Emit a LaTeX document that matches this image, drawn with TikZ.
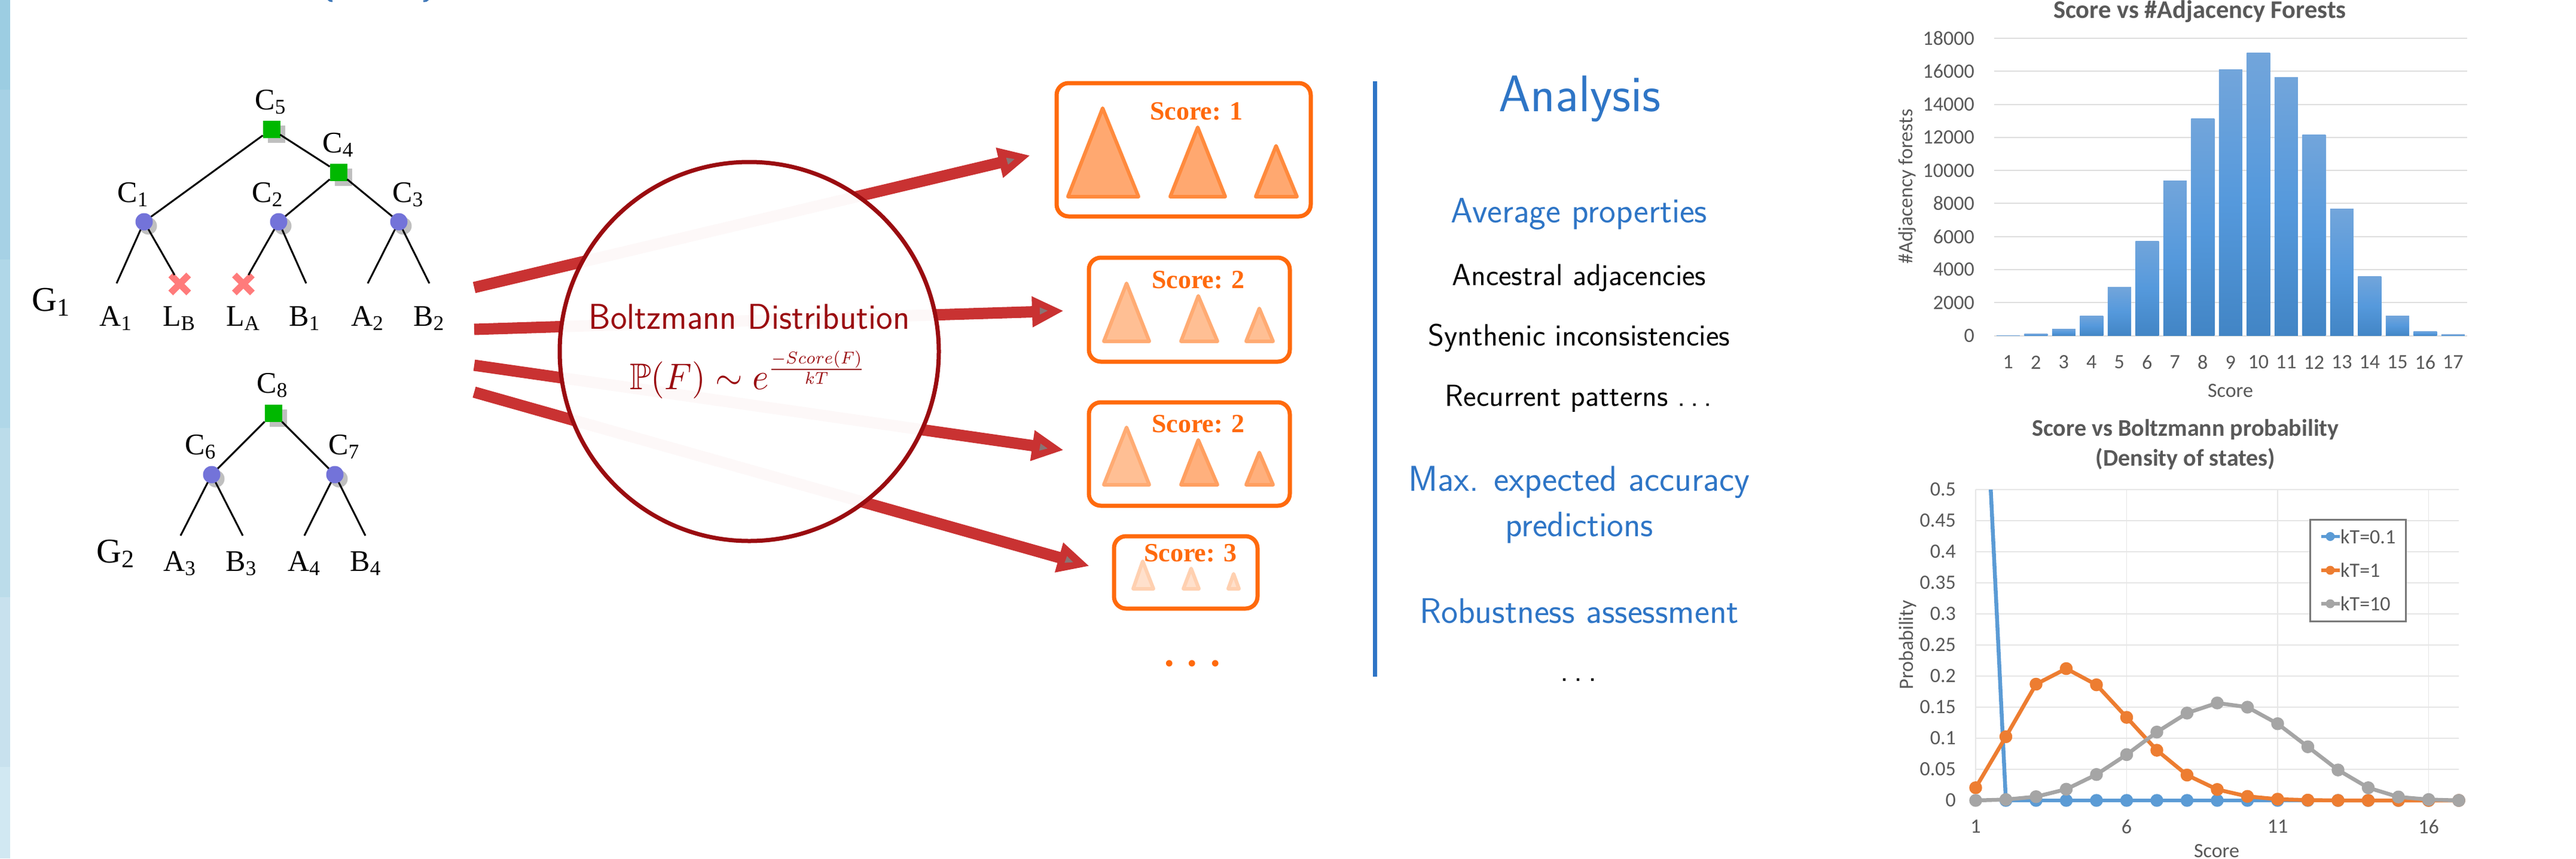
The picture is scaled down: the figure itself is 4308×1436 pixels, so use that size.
\documentclass[tikz,border=0pt]{standalone}
\usepackage{amsmath,amssymb,graphicx}
\usepackage{fontspec}
\usetikzlibrary{arrows.meta,shadows,shapes.misc}
\newfontfamily\tms{Liberation Serif}
\newfontfamily\crl{Carlito}
\newcommand{\fsz}[1]{\fontsize{#1}{#1}\selectfont}
\newcommand{\lsub}[2]{#1\raisebox{-7pt}{\fsz{35}#2}}
\newcommand{\gsub}[2]{#1\raisebox{-8pt}{\fsz{42}#2}}
\newcommand{\dts}{.\kern.17em.\kern.17em.}
\definecolor{bandA}{HTML}{9CCDE2}
\definecolor{bandB}{HTML}{A6D1E5}
\definecolor{bandC}{HTML}{B0D7E8}
\definecolor{bandD}{HTML}{BBDCEA}
\definecolor{bandE}{HTML}{C8E1EE}
\definecolor{bandF}{HTML}{D1E8F2}
\definecolor{treeblue}{HTML}{7373D9}
\definecolor{treegreen}{HTML}{00B800}
\definecolor{shadowgray}{HTML}{BFBFBF}
\definecolor{crossred}{HTML}{FF7B7B}
\definecolor{arrowred}{HTML}{C93232}
\definecolor{darkred}{HTML}{9A0C10}
\definecolor{boxorange}{HTML}{FF6A0D}
\definecolor{anblue}{HTML}{2E75C6}
\definecolor{txtgray}{HTML}{595959}
\definecolor{gridgray}{HTML}{DEDEDE}
\definecolor{gridlight}{HTML}{E6E6E6}
\definecolor{serblue}{HTML}{5B9BD5}
\definecolor{serorange}{HTML}{ED7D31}
\definecolor{sergray}{HTML}{A5A5A5}
\definecolor{barT}{HTML}{72A5DB}
\definecolor{barM}{HTML}{5599DC}
\definecolor{barB}{HTML}{4285C5}
\definecolor{trAd}{HTML}{FF8A3D}\definecolor{trAf}{HTML}{FFA870}
\definecolor{trBd}{HTML}{FFAB73}\definecolor{trBf}{HTML}{FFBF94}
\definecolor{trCd}{HTML}{FF9F60}\definecolor{trCf}{HTML}{FFB07D}
\definecolor{trDd}{HTML}{FFD0B0}\definecolor{trDf}{HTML}{FFE0CC}
\tikzset{
  inode/.style={circle,fill=treeblue,minimum size=29pt,inner sep=0pt,outer sep=0pt,
    drop shadow={shadow xshift=7pt,shadow yshift=-7pt,fill=shadowgray,opacity=1}},
  snode/.style={rectangle,fill=treegreen,minimum size=29pt,inner sep=0pt,outer sep=0pt,
    drop shadow={shadow xshift=8pt,shadow yshift=-8pt,fill=shadowgray,opacity=1}},
  xnode/.style={cross out,draw=crossred,line width=11pt,minimum size=30pt,inner sep=0pt,outer sep=0pt},
  edge/.style={draw=black,line width=3pt},
  tlabel/.style={font=\tms\fsz{50},anchor=base,inner sep=0pt},
  glabel/.style={font=\tms\fsz{58},anchor=base,inner sep=0pt},
  bigarrow/.style={draw=arrowred,line width=19pt,-{Triangle[length=53pt,width=48pt]}},
  scorebox/.style={draw=boxorange,line width=7pt,rounded corners=20pt,inner sep=0pt,fill=white},
  scoretxt/.style={font=\tms\bfseries\fsz{44},text=boxorange,inner sep=0pt},
  tri/.style n args={2}{draw=#1,fill=#2,line width=6pt,line join=round},
  ansh/.style={font=\sffamily\fsz{#1},anchor=base,inner sep=0pt,align=center,text=anblue},
  anbl/.style={font=\sffamily\fsz{#1},anchor=base,inner sep=0pt,text=black},
  chtitle/.style={font=\crl\bfseries\fsz{#1},text=txtgray,inner sep=0pt},
  chtick/.style={font=\crl\fsz{34},text=txtgray,inner sep=0pt},
  grid line/.style={draw=gridgray,line width=2pt},
  light grid/.style={draw=gridlight,line width=1.6pt},
  ser/.style={line width=6.5pt,line join=round,mark=*,mark size=7.5pt}
}
\begin{document}
\begin{tikzpicture}[x=1pt,y=-1pt]
\useasboundingbox (0,0) rectangle (4308,1436);
\fill[white] (0,0) rectangle (4308,1436);
% side strip
\fill[bandA] (0,0) rectangle (17,150);
\fill[bandB] (0,150) rectangle (17,434);
\fill[bandC] (0,434) rectangle (17,716);
\fill[bandD] (0,716) rectangle (17,999);
\fill[bandE] (0,999) rectangle (17,1283);
\fill[bandF] (0,1283) rectangle (17,1436);
% clipped title remnants
\draw[draw=anblue!80!gray,line width=3pt] (549,-1) .. controls (550,1) and (553,2) .. (556,2);
\draw[draw=anblue!80!gray,line width=3pt] (716,-1) .. controls (715,1) and (712,2) .. (708,2);

% tree 1
\node[snode] (c5) at (454,216) {};
\node[snode] (c4) at (566,288) {};
\node[inode] (c1) at (241,371) {};
\node[inode] (c2) at (466,371) {};
\node[inode] (c3) at (667,371) {};
\coordinate (a1p) at (195,474);
\coordinate (b1p) at (512,474);
\coordinate (a2p) at (615,474);
\coordinate (b2p) at (718,474);
\node[xnode] (lb) at (300.5,475) {};
\node[xnode] (la) at (407,475) {};
\draw[edge] (c5) -- (c1);
\draw[edge] (c5) -- (c4);
\draw[edge] (c4) -- (c2);
\draw[edge] (c4) -- (c3);
\draw[edge] (c1) -- (a1p);
\draw[edge] (c1) -- (lb);
\draw[edge] (c2) -- (la);
\draw[edge] (c2) -- (b1p);
\draw[edge] (c3) -- (a2p);
\draw[edge] (c3) -- (b2p);
\node[tlabel] (lc5) at (452,183) {\lsub{C}{5}};
\node[tlabel] (lc4) at (565,255) {\lsub{C}{4}};
\node[tlabel] (lc1) at (222,338) {\lsub{C}{1}};
\node[tlabel] (lc2) at (447,338) {\lsub{C}{2}};
\node[tlabel] (lc3) at (682,338) {\lsub{C}{3}};
\node[glabel] (lg1) at (85,520) {\gsub{G}{1}};
\node[tlabel] (la1) at (193,545) {\lsub{A}{1}};
\node[tlabel] (llb) at (299,545) {\lsub{L}{B}};
\node[tlabel] (lla) at (406,545) {\lsub{L}{A}};
\node[tlabel] (lb1) at (509,545) {\lsub{B}{1}};
\node[tlabel] (la2) at (614,545) {\lsub{A}{2}};
\node[tlabel] (lb2) at (717,545) {\lsub{B}{2}};
% tree 2
\node[snode] (c8) at (457,691) {};
\node[inode] (c6) at (354,794) {};
\node[inode] (c7) at (560,794) {};
\coordinate (a3p) at (302,896);
\coordinate (b3p) at (406,896);
\coordinate (a4p) at (509,896);
\coordinate (b4p) at (611,896);
\draw[edge] (c8) -- (c6);
\draw[edge] (c8) -- (c7);
\draw[edge] (c6) -- (a3p);
\draw[edge] (c6) -- (b3p);
\draw[edge] (c7) -- (a4p);
\draw[edge] (c7) -- (b4p);
\node[tlabel] (lc8) at (455,657) {\lsub{C}{8}};
\node[tlabel] (lc6) at (335,760) {\lsub{C}{6}};
\node[tlabel] (lc7) at (575,760) {\lsub{C}{7}};
\node[glabel] (lg2) at (193,941) {\gsub{G}{2}};
\node[tlabel] (la3) at (300,955) {\lsub{A}{3}};
\node[tlabel] (lb3) at (403,955) {\lsub{B}{3}};
\node[tlabel] (la4) at (508,955) {\lsub{A}{4}};
\node[tlabel] (lb4) at (611,955) {\lsub{B}{4}};

% arrows
\coordinate (s1) at (793,481);
\coordinate (t1) at (1723,260);
\coordinate (s2) at (793,551);
\coordinate (t2) at (1779,520);
\coordinate (s3) at (793,611);
\coordinate (t3) at (1779,753);
\coordinate (s4) at (793,656);
\coordinate (t4) at (1822,947);
\draw[bigarrow] (s1) -- (t1);
\draw[bigarrow] (s2) -- (t2);
\draw[bigarrow] (s3) -- (t3);
\draw[bigarrow] (s4) -- (t4);
\foreach \px/\py/\pa in {1690/268/16,1745/520/2,1745/749/-10,1788/938/-21}
  \fill[fill=gray!85!arrowred,shift={(\px,\py)},rotate=\pa] (-6,-6) -- (7,0) -- (-6,6) -- cycle;

% Boltzmann circle
\node[circle,draw=darkred,line width=7pt,fill=white,fill opacity=.97,draw opacity=1,
  minimum size=634pt,inner sep=0pt] (boltz) at (1253,588) {};
\node[font=\sffamily\fsz{60},text=darkred,inner sep=0pt,anchor=base] (bname) at (1253,550)
  {\scalebox{.975}[1]{Boltzmann Distribution}};
\node[text=darkred,inner sep=0pt,anchor=base] (bform) at (1251,651)
  {\scalebox{5.85}[6.2]{$\mathbb{P}(F)\sim e^{\scalebox{.66}{$\frac{-Score(F)}{kT}$}}$}};

% score boxes
\node[scorebox,minimum width=425pt,minimum height=223pt] (box1) at (1979.5,250.5) {};
\node[scorebox,minimum width=336pt,minimum height=174pt] (box2) at (1989,518) {};
\node[scorebox,minimum width=336pt,minimum height=173pt] (box3) at (1989,759.5) {};
\node[scorebox,minimum width=240pt,minimum height=121pt] (box4) at (1983,957.5) {};
\path[tri={trAd}{trAf}] (1844,181) -- (1786,329) -- (1904,329) -- cycle;
\path[tri={trAd}{trAf}] (2003,213) -- (1957,329) -- (2049,329) -- cycle;
\path[tri={trAd}{trAf}] (2134,244) -- (2100,329) -- (2169,329) -- cycle;
\path[tri={trBd}{trBf}] (1884,474) -- (1846,571) -- (1922,571) -- cycle;
\path[tri={trBd}{trBf}] (2004,495) -- (1975,571) -- (2036,571) -- cycle;
\path[tri={trBd}{trBf}] (2106,516) -- (2084,571) -- (2129,571) -- cycle;
\path[tri={trBd}{trBf}] (1884,715) -- (1846,811) -- (1922,811) -- cycle;
\path[tri={trCd}{trCf}] (2004,736) -- (1975,811) -- (2036,811) -- cycle;
\path[tri={trCd}{trCf}] (2106,757) -- (2084,811) -- (2129,811) -- cycle;
\path[tri={trDd}{trDf}] (1911,939) -- (1895,985) -- (1929,985) -- cycle;
\path[tri={trDd}{trDf}] (1992,951) -- (1979,985) -- (2005,985) -- cycle;
\path[tri={trDd}{trDf}] (2063,960) -- (2054,985) -- (2072,985) -- cycle;
\node[scoretxt] (sc1) at (2001,186) {Score: 1};
\node[scoretxt] (sc2) at (2004,468) {Score: 2};
\node[scoretxt] (sc3) at (2004,709) {Score: 2};
\node[scoretxt] (sc4) at (1991,925) {Score: 3};
\node[font=\tms\bfseries\fsz{66},text=boxorange,inner sep=0pt,anchor=base] (scd) at (1994,1114) {. . .};

% analysis
\coordinate (vt) at (2299,136);
\coordinate (vb) at (2299,1132);
\draw[draw=anblue,line width=7pt] (vt) -- (vb);
\node[ansh=86] (an0) at (2642,186) {Analysis};
\node[ansh=59] (an1) at (2641,372) {Average properties};
\node[anbl=51] (an2) at (2641,477) {Ancestral adjacencies};
\node[anbl=51.5] (an3) at (2641,578) {Synthenic inconsistencies};
\node[anbl=51] (an4) at (2640,679) {Recurrent patterns \dts};
\node[ansh=60] (an5) at (2641,821) {Max. expected accuracy};
\node[ansh=59] (an6) at (2641,897) {predictions};
\node[ansh=59.5] (an7) at (2641,1042) {Robustness assessment};
\node[anbl=54] (an8) at (2640,1139) {\dts};

% bar chart
\node[chtitle=42.5] (ct1) at (3679,19) {Score vs \#Adjacency Forests};
\foreach \v/\l in {0/0,2/2000,4/4000,6/6000,8/8000,10/10000,12/12000,14/14000,16/16000,18/18000}{
  \pgfmathsetmacro{\yy}{561.6-\v/18*497.6}
  \draw[grid line] (3335,\yy) -- (4125.5,\yy);
  \node[chtick,anchor=east] (yt\v) at (3302,\yy) {\l};
}
\foreach \i/\v in {1/0.02,2/0.1,3/0.42,4/1.21,5/2.925,6/5.735,7/9.355,8/13.12,9/16.09,10/17.11,11/15.625,12/12.15,13/7.66,14/3.6,15/1.21,16/0.275,17/0.065}{
  \pgfmathsetmacro{\xc}{3335+(\i-0.5)*46.5}
  \pgfmathsetmacro{\yy}{561.6-\v/18*497.6}
  \shade[top color=barT,bottom color=barB,middle color=barM]
    (\xc-19.5,\yy) rectangle (\xc+19.5,561.6);
  \node[chtick] (xt\i) at (\xc,606) {\i};
}
\node[chtick] (xl1) at (3730,654) {Score};
\node[chtick,rotate=90] (yl1) at (3190,312) {\#Adjacency forests};

% line chart
\node[chtitle=40] (ct2) at (3655,719) {Score vs Boltzmann probability};
\node[chtitle=40] (ct3) at (3655,768) {(Density of states)};
\foreach \v/\w in {0/a,0.05/b,0.1/c,0.15/d,0.2/e,0.25/f,0.3/g,0.35/h,0.4/i,0.45/j,0.5/k}{
  \pgfmathsetmacro{\yy}{1339-\v*1040}
  \draw[light grid] (3304,\yy) -- (4112,\yy);
  \node[chtick,anchor=east] (pt\w) at (3271,\yy) {\v};
}
\foreach \n in {1,6,11,16}{
  \pgfmathsetmacro{\xx}{3304+(\n-1)*50.5}
  \draw[light grid] (\xx,819) -- (\xx,1339);
  \node[chtick] (st\n) at (\xx,1383) {\n};
}
\node[chtick] (xl2) at (3707,1424) {Score};
\node[chtick,rotate=90] (yl2) at (3190,1079) {Probability};
\begin{scope}[shift={(3304,1339)},x=50.5pt,y=1040pt]
  \begin{scope}
    \clip (-1,0.5) rectangle (17,-0.1);
    \draw[draw=serblue,line width=6.5pt] (0,1) -- (1,0);
  \end{scope}
  \draw[ser,draw=serblue,mark options={fill=serblue,draw=serblue}] plot coordinates
    {(1,0)(2,0)(3,0)(4,0)(5,0)(6,0)(7,0)(8,0)(9,0)(10,0)(11,0)(12,0)(13,0)(14,0)(15,0)(16,0)};
  \draw[ser,draw=serorange,mark options={fill=serorange,draw=serorange}] plot coordinates
    {(0,.0204)(1,.1025)(2,.187)(3,.212)(4,.186)(5,.1336)(6,.0807)(7,.0408)(8,.0176)(9,.0065)(10,.002)(11,.0005)(12,0)(13,0)(14,0)(15,0)(16,0)};
  \draw[ser,draw=sergray,mark options={fill=sergray,draw=sergray}] plot coordinates
    {(0,0)(1,.0014)(2,.006)(3,.018)(4,.0417)(5,.0737)(6,.110)(7,.1405)(8,.1568)(9,.150)(10,.1234)(11,.0863)(12,.049)(13,.0204)(14,.0056)(15,.0014)(16,0)};
\end{scope}
\node[draw=gray!95!black,line width=3pt,fill=white,minimum width=159.5pt,minimum height=170pt,inner sep=0pt] (legend) at (3943.25,954) {};
\foreach \y/\c/\t/\w in {897.5/serblue/{kT=0.1}/a,954/serorange/{kT=1}/b,1010/sergray/{kT=10}/c}{
  \draw[draw=\c,line width=5.5pt] (3882,\y) -- (3913,\y);
  \fill[fill=\c] (3897,\y) circle[radius=7.5];
  \node[chtick,anchor=west] (leg\w) at (3914,\y) {\t};
}
\end{tikzpicture}
\end{document}
